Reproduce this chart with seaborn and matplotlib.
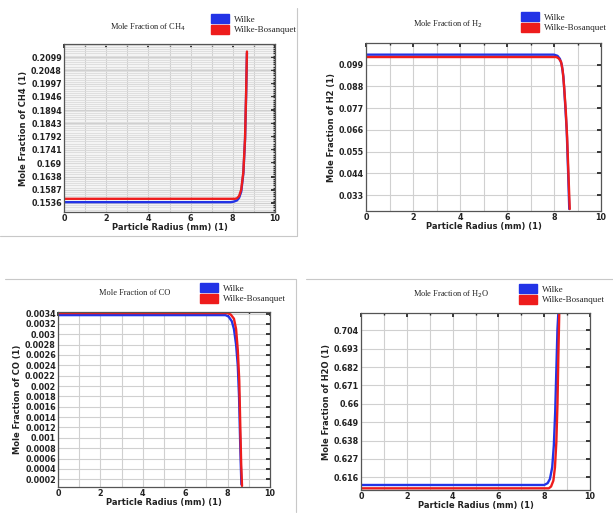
import matplotlib
matplotlib.use("Agg")
import numpy as np
import pandas as pd
import matplotlib.pyplot as plt
import seaborn as sns
from matplotlib.patches import Patch
from matplotlib.lines import Line2D
from matplotlib.ticker import AutoMinorLocator, MultipleLocator

# 曲线数据
# CH4
ch4_x_wilke = [0, 7.9, 8.05, 8.2, 8.3, 8.4, 8.5, 8.58, 8.63, 8.67]
ch4_y_wilke = [0.1539, 0.1539, 0.1541, 0.1546, 0.1556, 0.1580, 0.1650, 0.1780, 0.1950, 0.2115]
ch4_x_bos = [0, 8.1, 8.2, 8.3, 8.4, 8.5, 8.58, 8.63, 8.67]
ch4_y_bos = [0.1552, 0.1552, 0.1554, 0.1563, 0.1588, 0.1655, 0.1785, 0.1955, 0.2121]
ch4_ticks = [0.1536, 0.1587, 0.1638, 0.169, 0.1741, 0.1792, 0.1843, 0.1894, 0.1946, 0.1997, 0.2048, 0.2099]
ch4_ylim = (0.1501, 0.2150)

# H2
h2_x_wilke = [0, 8.0, 8.15, 8.25, 8.33, 8.4, 8.47, 8.54, 8.6, 8.65]
h2_y_wilke = [0.1041, 0.1041, 0.1035, 0.1020, 0.0990, 0.0930, 0.0800, 0.0660, 0.0450, 0.0260]
h2_x_bos = [0, 8.1, 8.2, 8.3, 8.37, 8.43, 8.5, 8.56, 8.62, 8.67]
h2_y_bos = [0.1029, 0.1029, 0.1022, 0.1005, 0.0960, 0.0880, 0.0760, 0.0620, 0.0420, 0.0260]
h2_ticks = [0.033, 0.044, 0.055, 0.066, 0.077, 0.088, 0.099]
h2_ylim = (0.0250, 0.1100)

# CO
co_x_wilke = [0, 7.9, 8.05, 8.2, 8.3, 8.4, 8.48, 8.54, 8.6, 8.65]
co_y_wilke = [0.00337, 0.00337, 0.00334, 0.00325, 0.00310, 0.00280, 0.00240, 0.00180, 0.00080, 0.00010]
co_x_bos = [0, 8.0, 8.15, 8.3, 8.4, 8.48, 8.55, 8.6, 8.64, 8.68]
co_y_bos = [0.00341, 0.00341, 0.00338, 0.00330, 0.00310, 0.00270, 0.00210, 0.00120, 0.00050, 0.00007]
co_ticks = [0.0002, 0.0004, 0.0006, 0.0008, 0.001, 0.0012, 0.0014, 0.0016, 0.0018,
            0.002, 0.0022, 0.0024, 0.0026, 0.0028, 0.003, 0.0032, 0.0034]
co_ylim = (0.00005, 0.00343)

# H2O
h2o_x_wilke = [0, 8.0, 8.15, 8.25, 8.35, 8.42, 8.48, 8.53, 8.58, 8.62]
h2o_y_wilke = [0.6114, 0.6114, 0.6125, 0.6150, 0.6220, 0.6350, 0.6550, 0.6800, 0.7050, 0.7150]
h2o_x_bos = [0, 8.2, 8.3, 8.4, 8.47, 8.53, 8.58, 8.62, 8.66]
h2o_y_bos = [0.6094, 0.6094, 0.6105, 0.6140, 0.6220, 0.6370, 0.6600, 0.6900, 0.7160]
h2o_ticks = [0.616, 0.627, 0.638, 0.649, 0.66, 0.671, 0.682, 0.693, 0.704]
h2o_ylim = (0.6084, 0.7144)

x_ticks = [0, 2, 4, 6, 8, 10]
series_names = ["Wilke", "Wilke-Bosanquet"]

sns.set_theme(style="white")
plt.rcParams['font.family'] = ['DejaVu Sans']

blue = "#2233e6"
red = "#ee1c1c"
palette = {"Wilke": blue, "Wilke-Bosanquet": red}

W, H = 613, 515
fig = plt.figure(figsize=(W / 100, H / 100), dpi=100)
fig.patch.set_facecolor("white")


def px_axes(l, t, r, b):
    return fig.add_axes([l / W, 1 - b / H, (r - l) / W, (b - t) / H])


panels = [
    dict(box=(64, 44, 275, 212), xw=ch4_x_wilke, yw=ch4_y_wilke, xb=ch4_x_bos, yb=ch4_y_bos,
         ticks=ch4_ticks, ylim=ch4_ylim, ylabel="Mole Fraction of CH4 (1)",
         title="Mole Fraction of CH$_4$", title_xy=(148, 27), leg_xy=(211, 14), minor=True),
    dict(box=(366, 43, 601, 211), xw=h2_x_wilke, yw=h2_y_wilke, xb=h2_x_bos, yb=h2_y_bos,
         ticks=h2_ticks, ylim=h2_ylim, ylabel="Mole Fraction of H2 (1)",
         title="Mole Fraction of H$_2$", title_xy=(448, 24), leg_xy=(521, 12), minor=False),
    dict(box=(58, 312, 270, 487), xw=co_x_wilke, yw=co_y_wilke, xb=co_x_bos, yb=co_y_bos,
         ticks=co_ticks, ylim=co_ylim, ylabel="Mole Fraction of CO (1)",
         title="Mole Fraction of CO", title_xy=(135, 293), leg_xy=(200, 283), minor=False),
    dict(box=(361, 313, 590, 490), xw=h2o_x_wilke, yw=h2o_y_wilke, xb=h2o_x_bos, yb=h2o_y_bos,
         ticks=h2o_ticks, ylim=h2o_ylim, ylabel="Mole Fraction of H2O (1)",
         title="Mole Fraction of H$_2$O", title_xy=(451, 294), leg_xy=(519, 284), minor=False),
]

for p in panels:
    ax = px_axes(*p["box"])
    df = pd.concat([
        pd.DataFrame({"r": p["xw"], "y": p["yw"], "model": series_names[0]}),
        pd.DataFrame({"r": p["xb"], "y": p["yb"], "model": series_names[1]}),
    ])
    sns.lineplot(data=df, x="r", y="y", hue="model", palette=palette, ax=ax,
                 linewidth=1.7, legend=False, sort=False)

    ax.set_xlim(0, 10)
    ax.set_ylim(*p["ylim"])
    ax.set_xticks(x_ticks)
    ax.set_xticklabels([str(t) for t in x_ticks])
    ax.xaxis.set_minor_locator(MultipleLocator(1))
    ax.set_yticks(p["ticks"])
    ax.set_yticklabels([str(t) for t in p["ticks"]])
    if p["minor"]:
        ax.yaxis.set_minor_locator(AutoMinorLocator(6))
        ax.grid(True, which="minor", axis="y", color="#dcdcdc", linewidth=0.6)
        ax.set_facecolor("#f4f4f4")
    else:
        ax.set_facecolor("white")
    ax.grid(True, which="major", axis="y", color="#d0d0d0", linewidth=0.8)
    ax.grid(True, which="both", axis="x", color="#d0d0d0", linewidth=0.8)
    ax.set_axisbelow(True)

    ax.tick_params(axis="both", which="major", direction="in", length=3, labelsize=5.8,
                   pad=1.5, colors="#222222", top=True, right=True)
    ax.tick_params(axis="both", which="minor", direction="in", length=1.5, top=True, right=True)
    for lab in ax.get_xticklabels() + ax.get_yticklabels():
        lab.set_fontweight("bold")
    for s in ax.spines.values():
        s.set_color("#555555")
        s.set_linewidth(0.9)

    ax.set_xlabel("Particle Radius (mm) (1)", fontsize=6.0, fontweight="bold", labelpad=0, color="#222222")
    ax.set_ylabel(p["ylabel"], fontsize=6.0, fontweight="bold", labelpad=2, color="#222222")

    fig.text(p["title_xy"][0] / W, 1 - p["title_xy"][1] / H, p["title"], ha="center", va="center",
             fontsize=6.0, family="Liberation Serif", color="#222222")

    handles = [Patch(facecolor=palette[n], edgecolor=palette[n]) for n in series_names]
    fig.legend(handles, series_names, loc="upper left",
               bbox_to_anchor=(p["leg_xy"][0] / W, 1 - p["leg_xy"][1] / H),
               frameon=False, prop={"family": "Liberation Serif", "size": 6.5},
               handlelength=2.0, handleheight=1.2, handletextpad=0.6, labelspacing=0.12,
               borderpad=0, borderaxespad=0)

# 截图拼接的浅灰边框
frame = "#c8c8c8"
fig.add_artist(Line2D([297 / W, 297 / W], [1 - 8 / H, 1 - 236 / H], color=frame, lw=0.8))
fig.add_artist(Line2D([0, 297 / W], [1 - 236 / H, 1 - 236 / H], color=frame, lw=0.8))
fig.add_artist(Line2D([5 / W, 296 / W], [1 - 279 / H, 1 - 279 / H], color=frame, lw=0.8))
fig.add_artist(Line2D([296 / W, 296 / W], [1 - 279 / H, 1 - 512 / H], color=frame, lw=0.8))
fig.add_artist(Line2D([306 / W, 1], [1 - 279 / H, 1 - 279 / H], color=frame, lw=0.8))

fig.savefig("out.png", dpi=100, facecolor="white")
